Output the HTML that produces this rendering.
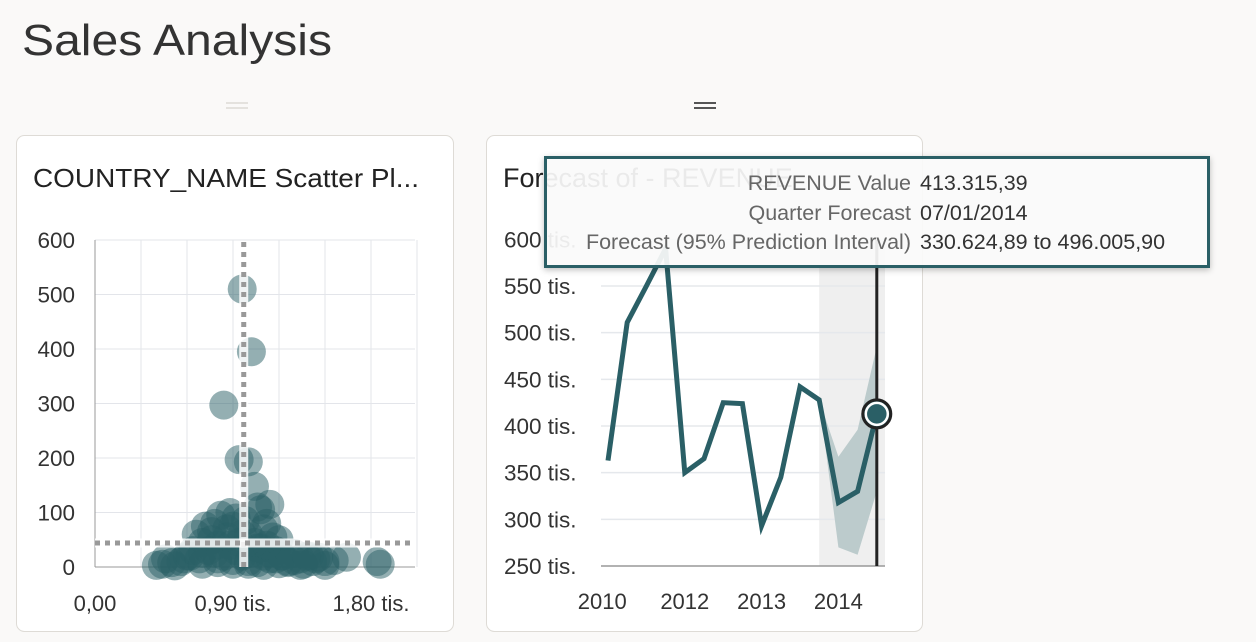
<!DOCTYPE html>
<html><head><meta charset="utf-8"><style>
body{margin:0;background:#faf9f8;font-family:"Liberation Sans",sans-serif;width:1256px;height:642px;overflow:hidden;position:relative}
</style></head><body>
<svg width="1256" height="642" style="position:absolute;left:0;top:0">
<text x="22" y="55" font-size="44" fill="#333" textLength="310" lengthAdjust="spacingAndGlyphs">Sales Analysis</text>
<g><rect x="226" y="102" width="22" height="2" fill="#e4e2de"/><rect x="226" y="107" width="22" height="2" fill="#e4e2de"/></g>
<g><rect x="694" y="102" width="22" height="2" fill="#555"/><rect x="694" y="107" width="22" height="2" fill="#555"/></g>
<rect x="16.5" y="135.5" width="437" height="496" rx="8" fill="#fff" stroke="#dedbd6"/>
<rect x="486.5" y="135.5" width="436" height="496" rx="8" fill="#fff" stroke="#dedbd6"/>
<text x="33" y="187" font-size="26" fill="#222" textLength="386" lengthAdjust="spacingAndGlyphs">COUNTRY_NAME Scatter Pl...</text>
<text x="503" y="187" font-size="27" fill="#222">Forecast of - REVENUE</text>
<g id="scatter"></g>
<g id="line"></g>
</svg>
<div style="position:absolute;left:544px;top:156px;width:660px;height:106px;border:3px solid #2a5f66;background:rgba(250,250,250,0.93);box-shadow:0 2px 6px rgba(0,0,0,.25);font-size:21.5px;line-height:29.5px">
<div style="position:absolute;right:296px;top:10px;text-align:right;color:#666;white-space:nowrap">
<div>REVENUE Value</div>
<div>Quarter Forecast</div>
<div>Forecast (95% Prediction Interval)</div></div>
<div style="position:absolute;left:373px;top:10px;color:#333;white-space:nowrap">
<div>413.315,39</div>
<div>07/01/2014</div>
<div>330.624,89 to 496.005,90</div></div>
</div>
<script>
const NS="http://www.w3.org/2000/svg";
function mk(p,t,a){const e=document.createElementNS(NS,t);for(const k in a)e.setAttribute(k,a[k]);p.appendChild(e);return e;}
// scatter data
const scatterX=[0.96,1.02,0.84,0.94,1.0,1.04,1.14,1.06,0.72,0.78,0.82,0.88,0.92,0.98,1.08,1.12,0.66,0.7,0.76,0.86,0.9,1.0,1.1,1.16,1.2,0.4,0.46,0.5,0.56,0.6,0.64,0.7,0.8,0.9,1.0,1.06,1.14,1.22,1.3,1.36,1.42,1.46,1.5,1.56,1.64,0.44,0.52,0.58,1.26,1.34,1.4,1.5,1.86,1.84,0.8,0.94,1.08,1.18,
0.62,0.68,0.74,0.78,0.84,0.88,0.92,0.96,1.02,1.06,1.1,1.14,1.18,1.22,1.26,1.3,1.34,0.7,0.8,0.9,1.0,1.1,1.2,0.76,0.86,0.96,1.04,1.12,1.38,1.44];
const scatterY=[510,395,297,197,193,148,115,110,75,80,95,100,90,85,105,80,60,45,65,70,75,60,70,55,50,3,15,8,10,20,30,25,15,5,10,8,15,20,12,5,10,18,3,12,18,5,2,15,8,3,20,10,5,10,40,45,35,30,
20,15,30,25,20,40,30,20,25,35,20,25,15,20,10,25,15,5,8,12,5,3,6,50,55,60,45,40,20,15];
const sc=document.getElementById('scatter');
const sx=v=>95+v*(46/0.3), sy=v=>567-v*0.545;
const sxTicks=[0,0.3,0.6,0.9,1.2,1.5,1.8,2.1], syTicks=[0,100,200,300,400,500,600];
const sxLabels=[["0,00",0],["0,90 tis.",0.9],["1,80 tis.",1.8]];
sxTicks.forEach(t=>{const l=mk(sc,'line',{x1:sx(t),x2:sx(t),y1:240,y2:567,stroke:'#e3e5ea'});

});
syTicks.forEach(t=>{const l=mk(sc,'line',{x1:95,x2:415,y1:sy(t),y2:sy(t),stroke:'#e3e5ea'});


const tx=mk(sc,'text',{x:75,y:sy(t)+8,'font-size':22.5,fill:'#333','text-anchor':'end'});tx.textContent=t;

});
sxLabels.forEach(([s,v])=>{const tx=mk(sc,'text',{x:sx(v),y:611,'font-size':22,fill:'#333','text-anchor':'middle'});tx.textContent=s;

});
mk(sc,'line',{x1:95,x2:95,y1:240,y2:567,stroke:'#999'});
mk(sc,'line',{x1:95,x2:415,y1:567,y2:567,stroke:'#999'});
scatterX.forEach((v,i)=>{const c=mk(sc,'circle',{cx:sx(v),cy:sy(scatterY[i]),r:14.5,fill:'#2a5f66','fill-opacity':0.5});

});
const meanX=0.97, meanY=44;
mk(sc,'line',{x1:sx(meanX),x2:sx(meanX),y1:242,y2:567,stroke:'#fff','stroke-width':9,'stroke-opacity':0.85});
const rl=mk(sc,'line',{x1:sx(meanX),x2:sx(meanX),y1:242,y2:567,stroke:'#999','stroke-width':5,'stroke-dasharray':'5 5'});


mk(sc,'line',{x1:95,x2:415,y1:sy(meanY),y2:sy(meanY),stroke:'#fff','stroke-width':9,'stroke-opacity':0.85});
const rl2=mk(sc,'line',{x1:95,x2:415,y1:sy(meanY),y2:sy(meanY),stroke:'#999','stroke-width':5,'stroke-dasharray':'5 5'});



// line chart data (thousands)
const revenue=[363,511,550,590,350,365,425,424,293,345,442,428,318,330,413];
const bandStart=11;
const bandUpper=[428,367,396,485];
const bandLower=[428,270,262,330];
const yTicks=[250,300,350,400,450,500,550,600];
const xLabels=[["2010",-0.3],["2012",4],["2013",8],["2014",12]];
const lg=document.getElementById('line');
const lx=i=>608+i*19.2, ly=v=>566-(v-250)*0.9333;
mk(lg,'rect',{x:lx(bandStart),y:240,width:885-lx(bandStart),height:326,fill:'#efefef'});
yTicks.forEach(t=>{if(t>250){const l=mk(lg,'line',{x1:601,x2:885,y1:ly(t),y2:ly(t),stroke:'#e5e8ec','stroke-width':1.5});

}
const tx=mk(lg,'text',{x:504,y:ly(t)+8,'font-size':22.5,fill:'#333'});tx.textContent=t+' tis.';

});
mk(lg,'line',{x1:601,x2:885,y1:566,y2:566,stroke:'#999','stroke-width':1.5});
xLabels.forEach(([s,i])=>{const tx=mk(lg,'text',{x:lx(i),y:609,'font-size':22,fill:'#333','text-anchor':'middle'});tx.textContent=s;

});
let bp='';bandUpper.forEach((v,k)=>bp+=(k?'L':'M')+lx(bandStart+k)+','+ly(v));
for(let k=bandLower.length-1;k>=0;k--)bp+='L'+lx(bandStart+k)+','+ly(bandLower[k]);
const band=mk(lg,'path',{d:bp+'Z',fill:'#bccbcc'});


const pts=revenue.map((v,i)=>lx(i)+','+ly(v)).join(' ');
const pl=mk(lg,'polyline',{points:pts,fill:'none',stroke:'#2a5f66','stroke-width':5,'stroke-linejoin':'miter'});


const last=revenue.length-1;
mk(lg,'line',{x1:lx(last),x2:lx(last),y1:240,y2:566,stroke:'#222','stroke-width':3});
const hp=mk(lg,'circle',{cx:lx(last),cy:ly(revenue[last]),r:14,fill:'#2a5f66',stroke:'#222','stroke-width':3});


mk(lg,'circle',{cx:lx(last),cy:ly(revenue[last]),r:11,fill:'none',stroke:'#fff','stroke-width':2.5});
</script>
</body></html>
